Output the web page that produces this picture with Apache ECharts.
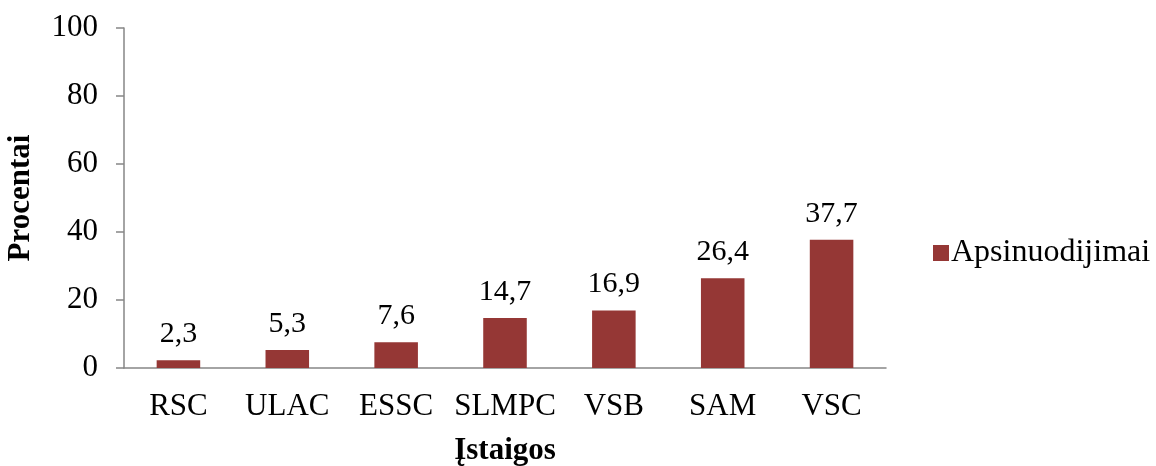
<!DOCTYPE html>
<html>
<head>
<meta charset="utf-8">
<script src="https://cdn.jsdelivr.net/npm/echarts@6/dist/echarts.min.js"></script>
<style>
  html, body { margin: 0; padding: 0; background: #fff; }
  #chart { width: 1156px; height: 466px; }
</style>
</head>
<body>
<div id="chart"></div>
<script>
// Institutions and poisoning share (%)
const categories = ['RSC', 'ULAC', 'ESSC', 'SLMPC', 'VSB', 'SAM', 'VSC'];
const values = [2.3, 5.3, 7.6, 14.7, 16.9, 26.4, 37.7];
const seriesName = 'Apsinuodijimai';
const yTicks = { min: 0, max: 100, interval: 20 };

const serif = "'Liberation Serif', 'Times New Roman', serif";
const axisGray = '#868686';

const chart = echarts.init(document.getElementById('chart'));
chart.setOption({
  animation: false,
  textStyle: { fontFamily: serif, color: '#000' },
  grid: { left: 124, right: 270, top: 28, bottom: 98, containLabel: false, outerBoundsMode: 'none' },
  legend: {
    left: 928, top: 232,
    icon: 'rect', itemWidth: 16, itemHeight: 16, itemGap: 6,
    textStyle: { fontFamily: serif, fontSize: 32, color: '#000', padding: [0, 0, 0, -3] },
    data: [seriesName]
  },
  xAxis: {
    type: 'category',
    data: categories,
    name: 'Įstaigos',
    nameLocation: 'middle',
    nameGap: 67,
    nameTextStyle: { fontFamily: serif, fontSize: 31, fontWeight: 'bold', color: '#000' },
    axisLine: { lineStyle: { color: axisGray, width: 1.5 } },
    axisTick: { show: false },
    axisLabel: { fontFamily: serif, fontSize: 31, color: '#000', margin: 23, interval: 0 }
  },
  yAxis: {
    type: 'value',
    min: yTicks.min, max: yTicks.max, interval: yTicks.interval,
    name: 'Procentai',
    nameLocation: 'middle',
    nameGap: 88,
    nameRotate: 90,
    nameTextStyle: { fontFamily: serif, fontSize: 31, fontWeight: 'bold', color: '#000' },
    axisLine: { show: true, lineStyle: { color: axisGray, width: 1.5 } },
    axisTick: { show: true, length: 8, lineStyle: { color: axisGray, width: 1.5 } },
    splitLine: { show: false },
    axisLabel: { fontFamily: serif, fontSize: 31, color: '#000', margin: 26 }
  },
  series: [{
    name: seriesName,
    type: 'bar',
    data: values,
    barWidth: '40%',
    itemStyle: { color: '#953735' },
    label: {
      show: true,
      position: 'top',
      distance: 11,
      fontFamily: serif,
      fontSize: 30,
      color: '#000',
      formatter: p => String(p.value).replace('.', ',')
    }
  }]
});
</script>
</body>
</html>
